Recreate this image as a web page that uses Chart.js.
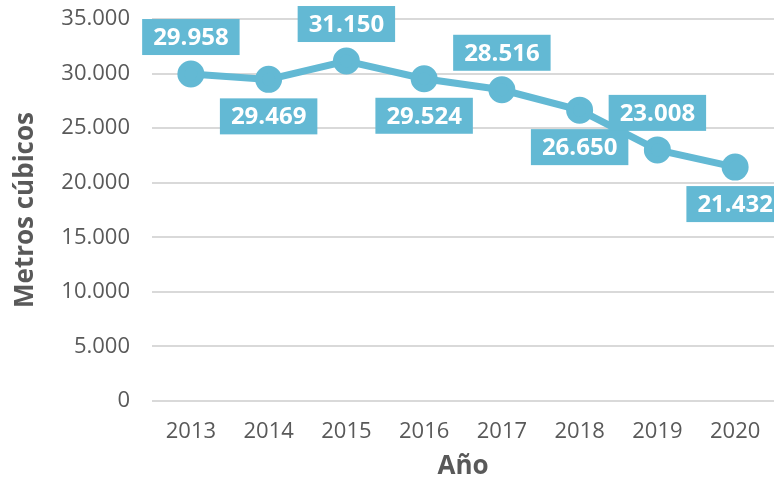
<!DOCTYPE html>
<html><head><meta charset="utf-8">
<script src="https://cdn.jsdelivr.net/npm/chart.js@4.4.1/dist/chart.umd.min.js"></script>
<style>html,body{margin:0;padding:0;background:#fff}#wrap{width:774px;height:482px}</style>
</head><body><div id="wrap"><canvas id="c" width="774" height="482"></canvas></div>
<script>
const years = ['2013','2014','2015','2016','2017','2018','2019','2020'];
const volumes = [29958, 29469, 31150, 29524, 28516, 26650, 23008, 21432];
const labelSide = ['above','below','above','below','above','below','above','below'];
const yTitle = 'Metros cúbicos';
const xTitle = 'Año';

const BLUE = '#63b9d4';
const GRAY = '#595959';
const FONT = "'Open Sans', sans-serif";

function fmt(v){ return String(Math.round(v)).replace(/\B(?=(\d{3})+(?!\d))/g, '.'); }

const boxLabels = {
  id: 'boxLabels',
  afterDatasetsDraw(chart){
    const ctx = chart.ctx;
    const meta = chart.getDatasetMeta(0);
    ctx.save();
    ctx.font = "bold 24px " + FONT;
    ctx.textAlign = 'center';
    ctx.textBaseline = 'middle';
    meta.data.forEach((pt, i) => {
      const txt = fmt(volumes[i]);
      const w = ctx.measureText(txt).width + 22;
      const h = 36;
      const cy = labelSide[i] === 'above' ? pt.y - 37 : pt.y + 37;
      ctx.fillStyle = BLUE;
      ctx.fillRect(pt.x - w/2, cy - h/2, w, h);
      ctx.fillStyle = '#ffffff';
      ctx.fillText(txt, pt.x, cy + 1);
    });
    ctx.restore();
  }
};

new Chart(document.getElementById('c'), {
  type: 'line',
  data: { labels: years, datasets: [{
    data: volumes, borderColor: BLUE, backgroundColor: BLUE,
    borderWidth: 7, pointRadius: 10, pointHoverRadius: 10,
    pointBackgroundColor: BLUE, pointBorderColor: BLUE, tension: 0, clip: false
  }]},
  options: {
    responsive: false, animation: false,
    layout: { autoPadding: false, padding: { left: 10, right: 0, top: 19, bottom: 0 } },
    plugins: { legend: { display: false }, tooltip: { enabled: false } },
    scales: {
      x: {
        offset: true,
        grid: { display: false, drawTicks: false },
        border: { display: false },
        ticks: { color: GRAY, font: { family: FONT, size: 22 }, padding: 18 },
        title: { display: true, text: xTitle, color: GRAY, font: { family: FONT, size: 26, weight: 'bold' }, padding: { top: 13, bottom: 0 } },
        afterFit(s){ s.height = 81; s.paddingLeft = 0; s.paddingRight = 0; }
      },
      y: {
        min: 0, max: 35000,
        grid: { color: '#d9d9d9', lineWidth: 2, drawTicks: false },
        border: { display: false },
        ticks: { stepSize: 5000, color: GRAY, font: { family: FONT, size: 22 }, padding: 22, callback: v => fmt(v) },
        title: { display: true, text: yTitle, color: GRAY, font: { family: FONT, size: 26, weight: 'bold' }, padding: { top: 0, bottom: 6 } },
        afterFit(s){ s.width = 142; s.paddingTop = 0; s.paddingBottom = 0; }
      }
    }
  },
  plugins: [boxLabels]
});
</script></body></html>
